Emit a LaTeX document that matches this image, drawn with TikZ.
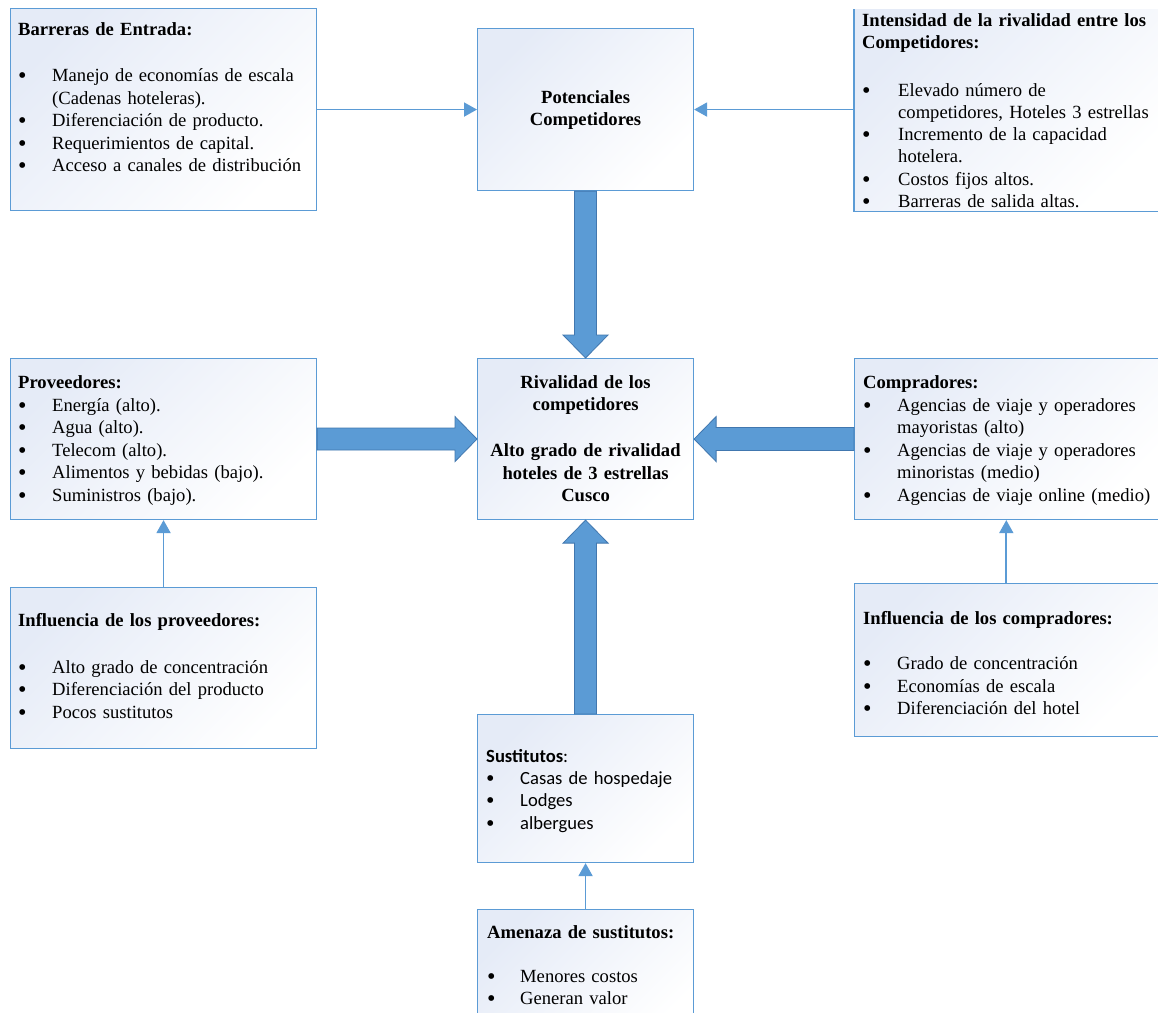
\documentclass[tikz,border=0pt]{standalone}
\usepackage{fontspec}
\usepackage{graphicx}
\setmainfont{Liberation Serif}
\newfontfamily\calib{Carlito}
\usetikzlibrary{arrows.meta,calc}
\definecolor{boxline}{RGB}{91,155,213}
\definecolor{boxtint}{RGB}{229,235,247}
\definecolor{blockfill}{RGB}{91,155,213}
\definecolor{blockedge}{RGB}{65,119,175}
\newlength\bw \setlength\bw{34pt}
\newcommand\bul{\makebox[\bw][l]{\raisebox{-2pt}{\scalebox{1.3}{\rmfamily\textbullet}}}}
\newcommand\ind{\makebox[\bw]{}}
\newcommand\tstrut{\rule{0pt}{16pt}}
\begin{document}
\begin{tikzpicture}[x=1pt,y=-1pt,
  box/.style={anchor=north west, inner sep=0pt, draw=boxline, line width=1.1pt,
    top color=boxtint, bottom color=white, shading angle=45},
  txt/.style={anchor=north west, inner sep=0pt, text width=300pt, align=left,
    font=\fontsize{18.6}{#1}\selectfont},
  ctxt/.style={anchor=north, inner sep=0pt, text width=216pt, align=center,
    font=\fontsize{18.6}{#1}\selectfont\bfseries},
  link/.style={draw=boxline, line width=1.8pt, -{Triangle[length=13pt,width=14pt]}},
  block/.style={fill=blockfill, draw=blockedge, line width=0.8pt, line join=miter}]
\fill[white] (0,0) rectangle (1158,1012);
\useasboundingbox (0,0) rectangle (1158,1012);

% boxes
\node[box, minimum width=306pt, minimum height=202pt] (bar) at (10,8) {};
\node[box, minimum width=216pt, minimum height=162pt] (pot) at (477,28) {};
\node[box, draw=none, minimum width=303.5pt, minimum height=201pt] (int) at (854,9) {};
\draw[draw=boxline, line width=1.1pt] (int.north west) -- (int.south west) -- (int.south east) -- (int.north east);
\node[box, minimum width=306pt, minimum height=161pt] (prov) at (10,358) {};
\node[box, minimum width=216pt, minimum height=161pt] (riv) at (477,358) {};
\node[box, minimum width=303.5pt, minimum height=161pt] (comp) at (854,358) {};
\node[box, minimum width=306pt, minimum height=161pt] (infp) at (10,587) {};
\node[box, minimum width=303.5pt, minimum height=153pt] (infc) at (854,583) {};
\node[box, minimum width=216pt, minimum height=148pt] (sus) at (477,714) {};
\node[box, minimum width=216pt, minimum height=130pt] (ame) at (477,909) {};

% texts
\node[txt=22.5] (bar-t) at ($(bar.north west)+(8,11)$) {\tstrut\textbf{Barreras de Entrada:}\\[24pt]
\bul Manejo de economías de escala\\
\ind (Cadenas hoteleras).\\
\bul Diferenciación de producto.\\
\bul Requerimientos de capital.\\
\bul Acceso a canales de distribución};

\node[ctxt=22] (pot-t) at ($(pot.north)+(0,59.5)$) {\tstrut Potenciales\\Competidores};

\node[txt=22.2] (int-t) at ($(int.north west)+(8,1)$) {\setlength\bw{36pt}\tstrut\textbf{Intensidad de la rivalidad entre los}\\
\textbf{Competidores:}\\[25.6pt]
\bul Elevado número de\\
\ind competidores, Hoteles 3 estrellas\\
\bul Incremento de la capacidad\\
\ind hotelera.\\
\bul Costos fijos altos.\\
\bul Barreras de salida altas.};

\node[txt=22.5] (prov-t) at ($(prov.north west)+(8,14.5)$) {\tstrut\textbf{Proveedores:}\\
\bul Energía (alto).\\
\bul Agua (alto).\\
\bul Telecom (alto).\\
\bul Alimentos y bebidas (bajo).\\
\bul Suministros (bajo).};

\node[ctxt=22.7] (riv-t) at ($(riv.north)+(0,14)$) {\tstrut Rivalidad de los\\competidores\\[22.7pt]
Alto grado de rivalidad\\hoteles de 3 estrellas\\Cusco};

\node[txt=22.5] (comp-t) at ($(comp.north west)+(9,14.5)$) {\tstrut\textbf{Compradores:}\\
\bul Agencias de viaje y operadores\\
\ind mayoristas (alto)\\
\bul Agencias de viaje y operadores\\
\ind minoristas (medio)\\
\bul Agencias de viaje online (medio)};

\node[txt=22.5] (infp-t) at ($(infp.north west)+(8,23.5)$) {\tstrut\textbf{Influencia de los proveedores:}\\[24pt]
\bul Alto grado de concentración\\
\bul Diferenciación del producto\\
\bul Pocos sustitutos};

\node[txt=22.5] (infc-t) at ($(infc.north west)+(9,25.5)$) {\tstrut\textbf{Influencia de los compradores:}\\[22.5pt]
\bul Grado de concentración\\
\bul Economías de escala\\
\bul Diferenciación del hotel};

\node[txt=22.3] (sus-t) at ($(sus.north west)+(9,32)$) {\calib\tstrut\textbf{Sustitutos}:\\
\bul Casas de hospedaje\\
\bul Lodges\\
\bul albergues};

\node[txt=22.2] (ame-t) at ($(ame.north west)+(10,13)$) {\setlength\bw{33pt}\tstrut\textbf{Amenaza de sustitutos:}\\[22.3pt]
\bul Menores costos\\
\bul Generan valor};

% thin connectors
\draw[link] (bar.east) -- (pot.west);
\draw[link] (int.west |- pot.east) -- (pot.east);
\draw[link] (infp.north) -- (prov.south);
\draw[link] (infc.north) -- (comp.south);
\draw[link] (ame.north) -- (sus.south);

% block arrows
\filldraw[block] ($(pot.south)+(-11,0)$) -- ($(riv.north)+(-11,-23)$) -- ($(riv.north)+(-22.5,-23)$) -- (riv.north)
  -- ($(riv.north)+(22.5,-23)$) -- ($(riv.north)+(11,-23)$) -- ($(pot.south)+(11,0)$) -- cycle;
\filldraw[block] ($(sus.north)+(-11,0)$) -- ($(riv.south)+(-11,23)$) -- ($(riv.south)+(-22.5,23)$) -- (riv.south)
  -- ($(riv.south)+(22.5,23)$) -- ($(riv.south)+(11,23)$) -- ($(sus.north)+(11,0)$) -- cycle;
\filldraw[block] ($(prov.east)+(0,-11)$) -- ($(riv.west)+(-22,-11)$) -- ($(riv.west)+(-22,-22.5)$) -- (riv.west)
  -- ($(riv.west)+(-22,22.5)$) -- ($(riv.west)+(-22,11)$) -- ($(prov.east)+(0,11)$) -- cycle;
\filldraw[block] ($(comp.west)+(0,-11.5)$) -- ($(riv.east)+(22,-11.5)$) -- ($(riv.east)+(22,-22.5)$) -- (riv.east)
  -- ($(riv.east)+(22,22.5)$) -- ($(riv.east)+(22,11.5)$) -- ($(comp.west)+(0,11.5)$) -- cycle;
\end{tikzpicture}
\end{document}
